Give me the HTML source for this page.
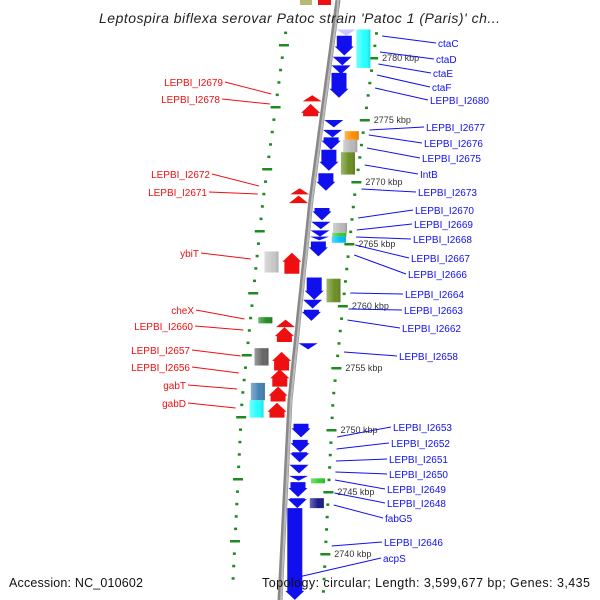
<!DOCTYPE html>
<html><head><meta charset="utf-8">
<style>
html,body{margin:0;padding:0;background:#fff;}
svg{display:block;font-family:"Liberation Sans","DejaVu Sans",sans-serif;}
</style></head>
<body>
<svg id="map" width="600" height="600" viewBox="0 0 600 600" xmlns="http://www.w3.org/2000/svg">
<defs>
<linearGradient id="shade" x1="0" x2="1" y1="0" y2="0"><stop offset="0" stop-color="#fff" stop-opacity="0.35"/><stop offset="0.6" stop-color="#fff" stop-opacity="0"/><stop offset="1" stop-color="#000" stop-opacity="0.15"/></linearGradient>
</defs>
<g id="rings"></g>
<path id="backbone" fill="none" stroke="#888" stroke-width="5"/>
<path id="backbone2" fill="none" stroke="#bbb" stroke-width="2"/>
<g id="genes"></g>
<g id="labels"></g>
<text x="99" y="23" textLength="401" lengthAdjust="spacing" font-size="14" font-style="italic" fill="#222">Leptospira biflexa serovar Patoc strain 'Patoc 1 (Paris)' ch...</text>
<text x="9" y="587" textLength="134" lengthAdjust="spacing" font-size="12.5" fill="#111">Accession: NC_010602</text>
<text x="262" y="587" textLength="328" lengthAdjust="spacing" font-size="12.5" fill="#111">Topology: circular; Length: 3,599,677 bp; Genes: 3,435</text>
</svg>
<script>
// gene data (kbp)
const fwdStart=[2782.3,2781.8,2780.1,2779.4,2778.8,2775.0,2774.2,2773.6,2772.6,2770.7,2767.9,2766.8,2766.1,2765.6,2765.2,2762.3,2760.5,2759.7,2757.0,2750.5,2749.2,2748.2,2747.2,2746.3,2745.8,2744.5,2743.7];
const fwdEnd=[2781.8,2780.2,2779.4,2778.7,2776.8,2774.4,2773.6,2772.6,2770.9,2769.3,2766.9,2766.2,2765.6,2765.3,2764.0,2760.5,2759.8,2758.8,2756.5,2749.4,2748.2,2747.4,2746.5,2745.9,2744.6,2743.7,2736.3];
const revStart=[2777.0,2776.3,2769.5,2768.9,2764.3,2758.9,2758.3,2756.3,2754.9,2753.5,2752.2];
const revEnd=[2776.5,2775.3,2769.0,2768.3,2762.6,2758.3,2757.1,2754.8,2753.5,2752.3,2751.0];
const boxStart=[2782.3,2774.1,2773.4,2772.4,2766.7,2765.9,2765.6,2762.2,2746.1,2744.5,2764.4,2759.1,2756.6,2753.8,2752.4];
const boxEnd=[2779.2,2773.4,2772.4,2770.6,2765.9,2765.6,2765.1,2760.3,2745.7,2743.7,2762.7,2758.6,2755.2,2752.4,2751.0];
const boxColor=["#22ffff","#ff8c00","#b8b8b8","#6b8e23","#b8b8b8","#33cc33","#00bfff","#6b8e23","#33cc33","#1a1a8a","#c8c8c8","#228b22","#666666","#4682b4","#22ffff"];
const boxSide=[1,1,1,1,1,1,1,1,1,1,-1,-1,-1,-1,-1];
const kbpTicks=[2780,2775,2770,2765,2760,2755,2750,2745,2740];
const rightLabels=["ctaC","ctaD","ctaE","ctaF","LEPBI_I2680","LEPBI_I2677","LEPBI_I2676","LEPBI_I2675","IntB","LEPBI_I2673","LEPBI_I2670","LEPBI_I2669","LEPBI_I2668","LEPBI_I2667","LEPBI_I2666","LEPBI_I2664","LEPBI_I2663","LEPBI_I2662","LEPBI_I2658","LEPBI_I2653","LEPBI_I2652","LEPBI_I2651","LEPBI_I2650","LEPBI_I2649","LEPBI_I2648","fabG5","LEPBI_I2646","acpS"];
const rightLabelX=[438,436,433,432,430,426,424,422,420,418,415,414,413,411,408,405,404,402,399,393,391,389,389,387,387,385,384,383];
const rightLabelY=[47,63,77,91,104,131,147,162,178,196,214,228,243,262,278,298,314,332,360,431,447,463,478,493,507,522,546,562];
const rightTargetY=[36,52,64,75,88,130,135,148,165,189,218,230,237,245,255,293,309,320,352,437,449,461,472,480,493,505,546,578];
const leftLabels=["LEPBI_I2679","LEPBI_I2678","LEPBI_I2672","LEPBI_I2671","ybiT","cheX","LEPBI_I2660","LEPBI_I2657","LEPBI_I2656","gabT","gabD"];
const leftLabelX=[223,220,210,207,199,194,193,190,190,186,186];
const leftLabelY=[86,103,178,196,257,314,330,354,371,389,407];
const leftTargetY=[94,104,186,194,259,319,330,356,373,389,408];

const NS="http://www.w3.org/2000/svg";
function yOf(k){return 58+(2780-k)*12.4;}
const bbPts=[[0,338],[200,311],[400,290],[600,280]];
function bb(y){
  let a=bbPts; for(let i=0;i<a.length-1;i++){ if(y<=a[i+1][0]||i==a.length-2){const t=(y-a[i][0])/(a[i+1][0]-a[i][0]);return a[i][1]+t*(a[i+1][1]-a[i][1]);}}
}
function ringL(y){return bb(y)-48;} function ringR(y){return bb(y)+43;}
function mk(tag,attrs,parent){const e=document.createElementNS(NS,tag);for(const k in attrs)e.setAttribute(k,attrs[k]);parent.appendChild(e);return e;}

let d="M"+bb(0)+",0";for(let y=10;y<=600;y+=10)d+=" L"+bb(y).toFixed(1)+","+y;
document.getElementById('backbone').setAttribute('d',d);
document.getElementById('backbone2').setAttribute('d',d.replace(/L([\d.]+),/g,(m,x)=>"L"+(parseFloat(x)+1)+","));

const rings=document.getElementById('rings');
for(let k=2785;k>=2735;k-=1){
  const y=yOf(k); if(y<28||y>600)continue;
  const major=(k%5===0);
  const r=mk('rect',{x:ringR(y)-(major?5:1.5),y:y-1,width:major?10:3,height:2.5,fill:"#1f8a1f"},rings);
  
  
  const yl=y-13; if(yl>28){
  const majorL=((k-2780)%5===0);
  const l=mk('rect',{x:ringL(yl)-(majorL?5:1.5),y:yl-1,width:majorL?10:3,height:2.5,fill:"#1f8a1f"},rings);
  
  }
}
kbpTicks.forEach(k=>{const y=yOf(k);
  const t=mk('text',{x:ringR(y)+9,y:y+3,'font-size':9,fill:'#333'},rings);t.textContent=k+" kbp";
  
  
});

const genes=document.getElementById('genes');
function arrow(y1,y2,x0,w,color,down){
  const len=y2-y1, head=Math.min(9,len), cx=x0+w/2, hw=w/2+2;
  let p;
  if(down){const hb=y2-head;p=[[x0,y1],[x0+w,y1],[x0+w,hb],[cx+hw,hb],[cx,y2],[cx-hw,hb],[x0,hb]];}
  else{const ht=y1+head;p=[[x0,y2],[x0+w,y2],[x0+w,ht],[cx+hw,ht],[cx,y1],[cx-hw,ht],[x0,ht]];}
  return mk('polygon',{points:p.map(q=>q.map(v=>v.toFixed(1)).join(',')).join(' '),fill:color},genes);
}
fwdStart.forEach((s,i)=>{const y1=yOf(s),y2=yOf(fwdEnd[i]);const x=bb((y1+y2)/2)+5;
  const g=arrow(y1,y2,x,15,i===0?"#c8c8ff":"#1010ee",true);
  
  
});
revStart.forEach((s,i)=>{const y1=yOf(s),y2=yOf(revEnd[i]);const x=bb((y1+y2)/2)-20;
  const g=arrow(y1,y2,x,15,"#ee1010",false);
  
  
});
boxStart.forEach((s,i)=>{const y1=yOf(s),y2=yOf(boxEnd[i]);const c=bb((y1+y2)/2);
  const x=boxSide[i]>0?c+25:c-40;
  const r=mk('rect',{x:x,y:y1,width:14,height:y2-y1,fill:boxColor[i]},genes);
  
  
  mk('rect',{x:x,y:y1,width:14,height:y2-y1,fill:"url(#shade)"},genes);
});

const labels=document.getElementById('labels');
rightLabels.forEach((s,i)=>{const ly=rightLabelY[i],ty=rightTargetY[i];
  const lx=rightLabelX[i];
  const tx=ringR(ty)+(i===27?-30:6);
  const ln=mk('line',{x1:tx,y1:ty,x2:lx-2,y2:ly-4,stroke:'#1010ee','stroke-width':1},labels);
  
  
  const t=mk('text',{x:lx,y:ly,'font-size':10,fill:'#1010ee'},labels);t.textContent=s;
  
  
});
leftLabels.forEach((s,i)=>{const ly=leftLabelY[i],ty=leftTargetY[i];
  const lx=leftLabelX[i];
  const tx=ringL(ty)-6;
  const ln=mk('line',{x1:lx+2,y1:ly-4,x2:tx,y2:ty,stroke:'#ee1010','stroke-width':1},labels);
  
  
  const t=mk('text',{x:lx,y:ly,'font-size':10,fill:'#ee1010','text-anchor':'end'},labels);t.textContent=s;
  
  
});
const tb=mk('rect',{x:300,y:0,width:12,height:5,fill:'#b8b870'},genes);


const tr=mk('rect',{x:318,y:0,width:13,height:5,fill:'#ee1010'},genes);


</script>
</body></html>
